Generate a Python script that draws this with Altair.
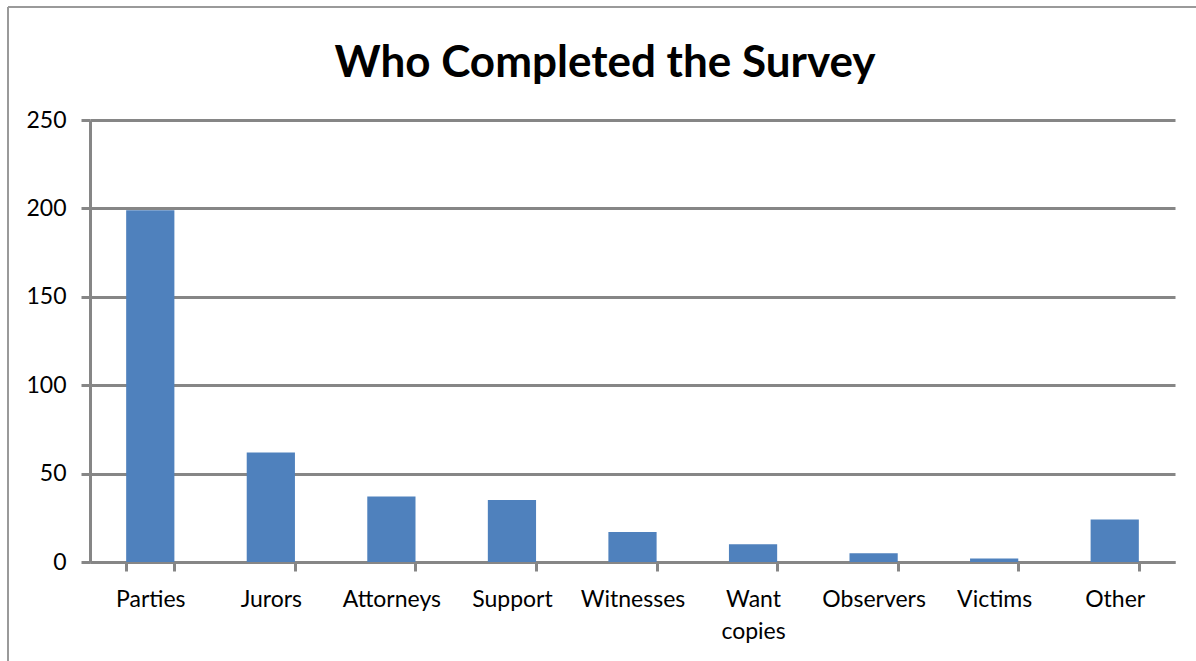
import altair as alt
import pandas as pd

categories = ["Parties", "Jurors", "Attorneys", "Support", "Witnesses",
              "Want copies", "Observers", "Victims", "Other"]
counts = [199, 62, 37, 35, 17, 10, 5, 2, 24]
y_ticks = [0, 50, 100, 150, 200, 250]
title_text = ["Who Completed the Survey"]

df = pd.DataFrame({"category": categories, "count": counts})

GRID = "#868686"
FONT = "Lato"

bars = alt.Chart(df).mark_bar(color="#4F81BD").encode(
    x=alt.X("category:N", sort=categories, title=None,
            scale=alt.Scale(paddingInner=0.6, paddingOuter=0.3),
            axis=alt.Axis(labelAngle=0, labelFontSize=23, labelFont=FONT,
                          labelColor="#000000", labelPadding=17,
                          labelExpr="split(datum.label, ' ')",
                          labelLineHeight=32,
                          tickBand="extent", tickSize=9, tickWidth=3,
                          tickColor=GRID, domainColor=GRID, domainWidth=3,
                          grid=False)),
    y=alt.Y("count:Q", title=None,
            scale=alt.Scale(domain=[0, 250], nice=False),
            axis=alt.Axis(values=y_ticks, labelFontSize=23, labelFont=FONT,
                          labelColor="#000000", labelPadding=15,
                          tickSize=9, tickWidth=3, tickColor=GRID,
                          domainColor=GRID, domainWidth=3,
                          grid=True, gridColor=GRID, gridWidth=3)),
)

title_df = pd.DataFrame({"t": title_text})
title = alt.Chart(title_df).mark_text(
    fontSize=44, font=FONT, fontWeight="bold", color="#000000",
    align="center", baseline="alphabetic"
).encode(text="t:N", x=alt.value(515), y=alt.value(-43))

frame_top = alt.Chart(df).mark_rule(color="#9a9a9a", strokeWidth=2).encode(
    x=alt.value(-82), x2=alt.value(1110), y=alt.value(-113)
)
frame_left = alt.Chart(df).mark_rule(color="#9a9a9a", strokeWidth=2).encode(
    x=alt.value(-82), y=alt.value(-113), y2=alt.value(560)
)

chart = alt.layer(bars, title, frame_top, frame_left).properties(
    width=1085,
    height=442,
    autosize=alt.AutoSizeParams(type="none"),
    padding={"left": 90, "top": 120, "right": 21, "bottom": 99},
).configure_view(stroke=None)

chart.save("out.html", embed_options={"renderer": "svg", "actions": False})
